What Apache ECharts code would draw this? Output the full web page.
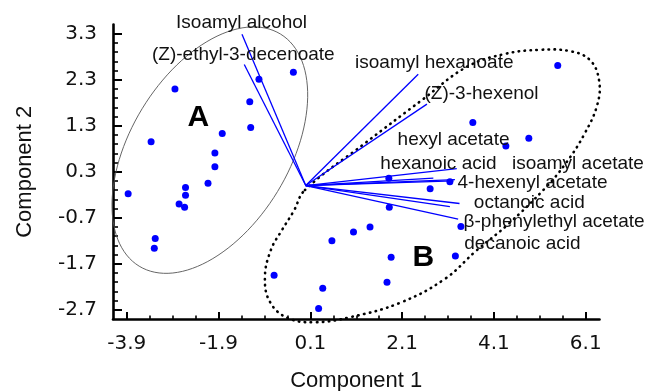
<!DOCTYPE html>
<html><head><meta charset="utf-8">
<script src="https://cdn.jsdelivr.net/npm/echarts@6/dist/echarts.min.js"></script>
<style>html,body{margin:0;padding:0;background:#fff}#c{width:648px;height:391px}</style>
</head><body><div id="c"></div>
<script>
// Scores (samples)
const scoreX = [-2.85,-1.02,-0.27,-1.22,-1.20,-1.82,-3.37,-1.98,-1.98,-2.13,-2.62,-2.62,-2.76,-2.64,-3.87,-3.28,-3.30,
                -0.69,0.28,0.37,0.57,1.04,1.40,1.82,1.81,2.71,3.14,3.38,3.26,1.86,1.77,3.64,4.36,4.86,5.49];
const scoreY = [2.10,2.31,2.46,1.82,1.26,1.13,0.95,0.71,0.41,0.05,-0.04,-0.21,-0.40,-0.47,-0.18,-1.15,-1.36,
                -1.95,-2.67,-2.23,-1.20,-1.01,-0.90,-0.47,0.16,-0.07,0.08,-0.89,-1.53,-1.56,-2.10,1.37,0.86,1.03,2.61];
// Loadings (variables)
const varNames = ['Isoamyl alcohol','(Z)-ethyl-3-decenoate','isoamyl hexanoate','(Z)-3-hexenol','hexyl acetate',
                  'hexanoic acid','isoamyl acetate','4-hexenyl acetate','octanoic acid','β-phenylethyl acetate','decanoic acid'];
const loadX = [-1.39,-1.34,2.45,2.64,2.78,3.29,3.22,3.25,3.35,3.32,3.14];
const loadY = [3.29,2.63,2.42,1.77,0.16,0.37,0.10,0.13,-0.39,-0.73,-0.46];
// Label anchor points (text centres)
const labelX = [-1.40,-1.36,2.80,3.83,3.22,2.89,5.93,4.94,4.87,5.41,4.72];
const labelY = [3.53,2.84,2.67,1.99,0.99,0.47,0.47,0.05,-0.37,-0.79,-1.27];
// Group labels
const groupNames = ['A','B'];
const groupX = [-2.34,2.56];
const groupY = [1.48,-1.57];
// Group A ellipse parameters (data units)
const ellipseA = {cx:-2.09, cy:0.77, a:2.955, b:1.728, angleDeg:58.6};
// Group B outline points
const outlineBX = [-0.02,1.29,2.56,3.51,4.34,5.10,5.76,6.19,6.39,6.35,6.06,5.67,5.24,4.41,3.71,3.03,2.05,0.97,0.20,-0.39,-0.78,-0.89,-0.76,-0.52,-0.26];
const outlineBY = [-0.10,0.92,1.88,2.58,2.86,2.95,2.92,2.73,2.29,1.75,1.10,0.49,-0.03,-0.84,-1.42,-2.03,-2.55,-2.86,-2.97,-2.88,-2.53,-1.99,-1.40,-0.97,-0.55];
// Ticks
const xMajorTicks = [-3.9,-1.9,0.1,2.1,4.1,6.1];
const xMinorTicks = [-3.4,-2.9,-2.4,-1.4,-0.9,-0.4,0.6,1.1,1.6,2.6,3.1,3.6,4.6,5.1,5.6];
const yMajorTicks = [-2.7,-1.7,-0.7,0.3,1.3,2.3,3.3];
const yMinorTicks = [-2.5,-2.3,-2.1,-1.9,-1.5,-1.3,-1.1,-0.9,-0.5,-0.3,-0.1,0.1,0.5,0.7,0.9,1.1,1.5,1.7,1.9,2.1,2.5,2.7,2.9,3.1];

const X_MIN=-4.2, X_MAX=6.4, Y_MIN=-2.9, Y_MAX=3.5;
const BLUE='#0000ff';
const TXT='"Liberation Sans", Arial, Helvetica, sans-serif';

const chart = echarts.init(document.getElementById('c'), null, {renderer:'canvas'});
const fmt = v => Number(v).toFixed(1);

const axisCommon = { type:'value', splitLine:{show:false} };

chart.setOption({
  animation:false,
  backgroundColor:'#fff',
  grid:{left:113, right:48.5, top:24.5, bottom:72, containLabel:false, outerBoundsMode:'none'},
  xAxis:[
    Object.assign({}, axisCommon, {
      min:X_MIN, max:X_MAX, position:'bottom',
      name:'Component 1', nameLocation:'middle', nameGap:51,
      nameTextStyle:{fontFamily:TXT, fontSize:22, color:'#111'},
      axisLine:{show:true, onZero:false, lineStyle:{color:'#000', width:2.6}},
      axisTick:{show:true, inside:true, length:7, customValues:xMajorTicks, lineStyle:{color:'#000', width:2}},
      axisLabel:{show:true, customValues:xMajorTicks, formatter:fmt, margin:15, fontFamily:'"DejaVu Sans", sans-serif', fontSize:20, color:'#111'}
    }),
    Object.assign({}, axisCommon, {
      min:X_MIN, max:X_MAX, position:'bottom', offset:0,
      axisLine:{show:false, onZero:false},
      axisTick:{show:true, inside:true, length:3.5, customValues:xMinorTicks, lineStyle:{color:'#000', width:1.6}},
      axisLabel:{show:false}
    })
  ],
  yAxis:[
    Object.assign({}, axisCommon, {
      min:Y_MIN, max:Y_MAX, position:'left',
      name:'Component 2', nameLocation:'middle', nameGap:77,
      nameTextStyle:{fontFamily:TXT, fontSize:22, color:'#111'},
      axisLine:{show:true, onZero:false, lineStyle:{color:'#000', width:2.6}},
      axisTick:{show:true, inside:true, length:9, customValues:yMajorTicks, lineStyle:{color:'#000', width:2}},
      axisLabel:{show:true, customValues:yMajorTicks, formatter:fmt, margin:16, fontFamily:'"DejaVu Sans", sans-serif', fontSize:20, color:'#111'}
    }),
    Object.assign({}, axisCommon, {
      min:Y_MIN, max:Y_MAX, position:'left', offset:0,
      axisLine:{show:false, onZero:false},
      axisTick:{show:true, inside:true, length:5, customValues:yMinorTicks, lineStyle:{color:'#000', width:1.6}},
      axisLabel:{show:false}
    })
  ],
  series:[
    { // ellipse A
      type:'custom', clip:false, z:1, silent:true,
      data:[[ellipseA.cx, ellipseA.cy]],
      renderItem:(params, api)=>{
        const th = ellipseA.angleDeg*Math.PI/180, pts=[];
        for(let i=0;i<120;i++){
          const t = i/120*2*Math.PI;
          const x = ellipseA.cx + ellipseA.a*Math.cos(t)*Math.cos(th) - ellipseA.b*Math.sin(t)*Math.sin(th);
          const y = ellipseA.cy + ellipseA.a*Math.cos(t)*Math.sin(th) + ellipseA.b*Math.sin(t)*Math.cos(th);
          pts.push(api.coord([x,y]));
        }
        return {type:'polygon', shape:{points:pts}, style:{fill:'none', stroke:'#555', lineWidth:0.9}};
      }
    },
    { // outline B (dotted)
      type:'custom', clip:false, z:1, silent:true,
      data:[[outlineBX[0], outlineBY[0]]],
      renderItem:(params, api)=>{
        const pts = outlineBX.map((x,i)=>api.coord([x, outlineBY[i]]));
        return {type:'polygon', shape:{points:pts, smooth:0.4},
          style:{fill:'none', stroke:'#000', lineWidth:2.6, lineDash:[0.5,5.5], lineCap:'round'}};
      }
    },
    { // loading vectors
      type:'custom', clip:false, z:2, silent:true,
      data: loadX.map((x,i)=>[x, loadY[i]]),
      renderItem:(params, api)=>{
        const o = api.coord([0,0]);
        const e = api.coord([api.value(0), api.value(1)]);
        return {type:'line', shape:{x1:o[0], y1:o[1], x2:e[0], y2:e[1]}, style:{stroke:BLUE, lineWidth:1.3}};
      }
    },
    { // scores
      type:'scatter', z:3, symbol:'circle', symbolSize:7,
      itemStyle:{color:BLUE, opacity:1},
      data: scoreX.map((x,i)=>[x, scoreY[i]])
    },
    { // variable labels
      type:'custom', clip:false, z:4, silent:true,
      data: labelX.map((x,i)=>[x, labelY[i]]),
      renderItem:(params, api)=>{
        const p = api.coord([api.value(0), api.value(1)]);
        return {type:'text', x:p[0], y:p[1], style:{text:varNames[params.dataIndex], fill:'#111',
          fontFamily:TXT, fontSize:19, align:'center', verticalAlign:'middle', textAlign:'center', textVerticalAlign:'middle'}};
      }
    },
    { // group labels
      type:'custom', clip:false, z:4, silent:true,
      data: groupX.map((x,i)=>[x, groupY[i]]),
      renderItem:(params, api)=>{
        const p = api.coord([api.value(0), api.value(1)]);
        return {type:'text', x:p[0], y:p[1], style:{text:groupNames[params.dataIndex], fill:'#000',
          fontFamily:TXT, fontSize:30, fontWeight:'bold', align:'center', verticalAlign:'middle', textAlign:'center', textVerticalAlign:'middle'}};
      }
    }
  ]
});
</script></body></html>
